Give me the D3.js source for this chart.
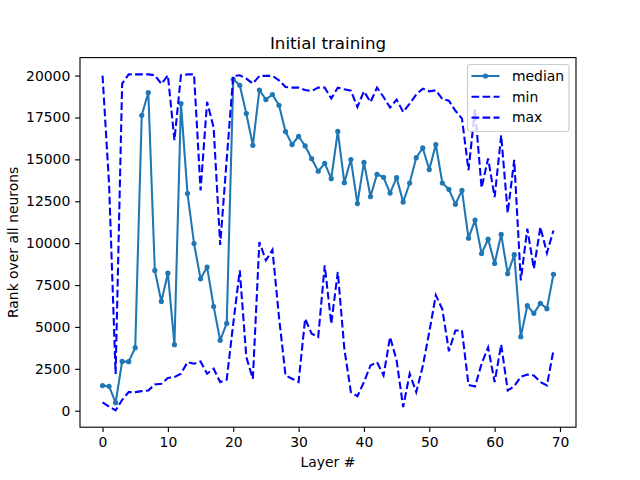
<!DOCTYPE html>
<html>
<head>
<meta charset="utf-8">
<script src="https://cdn.jsdelivr.net/npm/d3@7"></script>
<style>
  body { margin: 0; background: #fff; }
  #svg-container { width: 640px; height: 480px; }
  text { font-family: "DejaVu Sans", sans-serif; fill: #000; }
</style>
</head>
<body>
<div id="svg-container"></div>
<script>
////////////////////////////////////////////////////////////////////
////////////////////////////  Data  ////////////////////////////////
const median = [1500, 1460, 480, 2940, 2930, 3760, 17630, 18990, 8370, 6520,
  8210, 3940, 18330, 12960, 9980, 7870, 8570, 6220, 4200, 5210,
  19780, 19420, 17730, 15840, 19140, 18570, 18870, 18230, 16660, 15880,
  16380, 15800, 15040, 14290, 14760, 13850, 16670, 13610, 14990, 12360,
  14820, 12780, 14110, 13930, 12990, 13910, 12450, 13590, 15100, 15680,
  14390, 15880, 13590, 13210, 12320, 13150, 10300, 11380, 9370, 10240,
  8790, 10520, 8180, 9310, 4420, 6270, 5810, 6410, 6090, 8140];

const minRank = [500, 250, 20, 650, 1110, 1110, 1170, 1210, 1570, 1610,
  1950, 2010, 2210, 2900, 2810, 2940, 2210, 2510, 1710, 1860,
  5200, 8380, 3200, 1910, 10070, 8970, 9610, 5600, 2110, 1910,
  1710, 5490, 4600, 4400, 8680, 5190, 8280, 3700, 1110, 870,
  1710, 2700, 2900, 2110, 4400, 3000, 220, 2210, 1110, 2650,
  4700, 6900, 6050, 3550, 4790, 4790, 1540, 1450, 2800, 3780,
  1710, 3950, 1210, 1460, 2030, 2160, 2100, 1710, 1510, 3600];

const maxRank = [20000, 13500, 2200, 19520, 20070, 20070, 20070, 20070, 20020, 19500,
  20020, 16140, 20020, 20070, 20070, 13150, 18430, 16900, 9900, 15000,
  19980, 20020, 19820, 19520, 19980, 19980, 19980, 19720, 19320, 19280,
  19280, 19140, 19080, 19280, 19280, 18630, 19280, 19180, 19100, 18130,
  19060, 18420, 19280, 18720, 18090, 18570, 17830, 18330, 18870, 19220,
  19060, 19120, 18600, 18500, 17900, 17430, 14350, 18000, 13300, 15050,
  12750, 16430, 11800, 14970, 7780, 10870, 8480, 10960, 9410, 10760];

const layers = median.map((d, i) => i);

const xTicks = [0, 10, 20, 30, 40, 50, 60, 70];
const yTicks = [0, 2500, 5000, 7500, 10000, 12500, 15000, 17500, 20000];

const seriesNames = ["median", "min", "max"];

////////////////////////////////////////////////////////////////////
////////////////////////////  Init  ///////////////////////////////
const width = 640;
const height = 480;
const margin = { top: 57.6, right: 64, bottom: 52.8, left: 80 };

const svg = d3.select("#svg-container").append("svg")
  .attr("width", width)
  .attr("height", height);

// scale (matplotlib style 5% margins)
const xPad = (d3.max(layers) - d3.min(layers)) * 0.05;
const xScale = d3.scaleLinear()
  .domain([d3.min(layers) - xPad, d3.max(layers) + xPad])
  .range([margin.left, width - margin.right]);

const allVals = median.concat(minRank, maxRank);
const yMin = d3.min(allVals), yMax = d3.max(allVals);
const yPad = (yMax - yMin) * 0.05;
const yScale = d3.scaleLinear()
  .domain([yMin - yPad, yMax + yPad])
  .range([height - margin.bottom, margin.top]);

// line
const lineOf = (vals) => d3.line()
  .x((d, i) => xScale(layers[i]))
  .y((d) => yScale(d))(vals);

////////////////////////////////////////////////////////////////////
////////////////////////////  Draw  ////////////////////////////////
svg.append("clipPath").attr("id", "plot-clip")
  .append("rect")
  .attr("x", margin.left).attr("y", margin.top)
  .attr("width", width - margin.left - margin.right)
  .attr("height", height - margin.top - margin.bottom);

const plot = svg.append("g").attr("clip-path", "url(#plot-clip)");

plot.append("path")
  .attr("d", lineOf(median))
  .attr("fill", "none")
  .attr("stroke", "#1f77b4")
  .attr("stroke-width", 2.08)
  .attr("stroke-linejoin", "round");

plot.selectAll(".dot")
  .data(median)
  .join("circle")
  .attr("class", "dot")
  .attr("cx", (d, i) => xScale(layers[i]))
  .attr("cy", (d) => yScale(d))
  .attr("r", 2.6)
  .attr("fill", "#1f77b4");

[minRank, maxRank].forEach((vals) => {
  plot.append("path")
    .attr("d", lineOf(vals))
    .attr("fill", "none")
    .attr("stroke", "#0000ff")
    .attr("stroke-width", 2.08)
    .attr("stroke-dasharray", "7.7,3.33");
});

// axes
const xAxis = svg.append("g")
  .attr("transform", `translate(0,${height - margin.bottom})`)
  .call(d3.axisBottom(xScale).tickValues(xTicks).tickFormat(d3.format("d"))
    .tickSize(4.86).tickPadding(4.86).tickSizeOuter(0));

const yAxis = svg.append("g")
  .attr("transform", `translate(${margin.left},0)`)
  .call(d3.axisLeft(yScale).tickValues(yTicks).tickFormat(d3.format("d"))
    .tickSize(4.86).tickPadding(4.86).tickSizeOuter(0));

[xAxis, yAxis].forEach((ax) => {
  ax.select(".domain").remove();
  ax.selectAll(".tick line").attr("stroke", "#000").attr("stroke-width", 1.11);
  ax.selectAll(".tick text").attr("font-size", 13.9).attr("font-family", "DejaVu Sans").attr("fill", "#000");
});

// frame
svg.append("rect")
  .attr("x", margin.left).attr("y", margin.top)
  .attr("width", width - margin.left - margin.right)
  .attr("height", height - margin.top - margin.bottom)
  .attr("fill", "none")
  .attr("stroke", "#000")
  .attr("stroke-width", 1.11);

// labels
svg.append("text")
  .attr("x", (margin.left + width - margin.right) / 2)
  .attr("y", margin.top - 8.3)
  .attr("text-anchor", "middle")
  .attr("font-size", 16.7)
  .text("Initial training");

svg.append("text")
  .attr("x", (margin.left + width - margin.right) / 2)
  .attr("y", 467)
  .attr("text-anchor", "middle")
  .attr("font-size", 13.9)
  .text("Layer #");

svg.append("text")
  .attr("transform", `translate(18,${(margin.top + height - margin.bottom) / 2}) rotate(-90)`)
  .attr("text-anchor", "middle")
  .attr("font-size", 13.9)
  .text("Rank over all neurons");

// legend
const legend = svg.append("g").attr("transform", "translate(467.5,64.5)");
legend.append("rect")
  .attr("width", 101.5).attr("height", 67)
  .attr("rx", 2.8)
  .attr("fill", "#fff").attr("fill-opacity", 0.8)
  .attr("stroke", "#cccccc").attr("stroke-width", 1.11);

seriesNames.forEach((name, i) => {
  const y = 11.5 + i * 20.8;
  const g = legend.append("g").attr("transform", `translate(0,${y})`);
  const ln = g.append("line")
    .attr("x1", 4).attr("x2", 32)
    .attr("y1", 0).attr("y2", 0)
    .attr("stroke-width", 2.08);
  if (i === 0) {
    ln.attr("stroke", "#1f77b4");
    g.append("circle").attr("cx", 18).attr("cy", 0).attr("r", 2.6).attr("fill", "#1f77b4");
  } else {
    ln.attr("stroke", "#0000ff").attr("stroke-dasharray", "7.7,3.33");
  }
  g.append("text")
    .attr("x", 44.5).attr("y", 0)
    .attr("dy", "0.35em")
    .attr("font-size", 13.9)
    .text(name);
});
</script>
</body>
</html>
